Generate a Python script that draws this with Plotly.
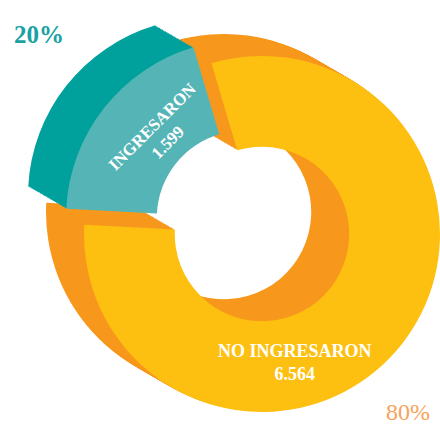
import plotly.graph_objects as go

# ---- data ----
categories = ["INGRESARON", "NO INGRESARON"]
values = [1599, 6564]

# ---- styling ----
W, H = 440, 427
face_colors = ["#55B5B6", "#FDC010"]
side_colors = ["#00A19D", "#F7981D"]
pct_colors = ["#1AA1A3", "#F7A35C"]
CLEAR = "rgba(0,0,0,0)"

R = 178
HOLE = 0.49
cx, cy = 262, 234            # front-face centre of the big slice (px)
pull_dx, pull_dy = -18, -16  # explode offset of the small slice (px)
depth_dx, depth_dy = -38, -22  # extrusion direction (px)
N = 26


def dom(x, y, r):
    return dict(
        x=[max(0, (x - r) / W), min(1, (x + r) / W)],
        y=[max(0, 1 - (y + r) / H), min(1, 1 - (y - r) / H)],
    )


def ring(x, y, colors):
    return go.Pie(
        labels=categories, values=values, sort=False,
        direction="counterclockwise", rotation=-87, hole=HOLE,
        domain=dom(x, y, R),
        marker=dict(colors=colors, line=dict(width=0)),
        textinfo="none", hoverinfo="skip", showlegend=False,
    )


traces = []
# big slice: extrusion layers then front face
for i in range(N, -1, -1):
    t = i / N
    col = face_colors[1] if i == 0 else side_colors[1]
    traces.append(ring(cx + depth_dx * t, cy + depth_dy * t, [CLEAR, col]))
# small (exploded) slice
for i in range(N, -1, -1):
    t = i / N
    col = face_colors[0] if i == 0 else side_colors[0]
    traces.append(ring(cx + pull_dx + depth_dx * t, cy + pull_dy + depth_dy * t, [col, CLEAR]))

fig = go.Figure(traces)

total = sum(values)
pcts = [round(100 * v / total) for v in values]
fmt = [f"{v:,}".replace(",", ".") for v in values]

annotations = [
    dict(text=f"<b>{categories[0]}<br>{fmt[0]}</b>", x=160 / W, y=1 - 134 / H,
         textangle=-45, font=dict(family="Liberation Serif", size=17, color="white")),
    dict(text=f"<b>{categories[1]}<br>{fmt[1]}</b>", x=295 / W, y=1 - 362 / H,
         font=dict(family="Liberation Serif", size=18, color="white")),
    dict(text=f"<b>{pcts[0]}%</b>", x=39 / W, y=1 - 35 / H,
         font=dict(family="Liberation Serif", size=25, color=pct_colors[0])),
    dict(text=f"{pcts[1]}%", x=408 / W, y=1 - 412 / H,
         font=dict(family="Liberation Serif", size=24, color=pct_colors[1])),
]
for a in annotations:
    a.update(xref="paper", yref="paper", showarrow=False, xanchor="center", yanchor="middle")

fig.update_layout(
    width=W, height=H, autosize=False,
    margin=dict(l=0, r=0, t=0, b=0),
    paper_bgcolor="white", plot_bgcolor="white",
    annotations=annotations,
)

fig.write_html("out.html", config={"displayModeBar": False},
               post_script="document.body.style.margin='0';")
